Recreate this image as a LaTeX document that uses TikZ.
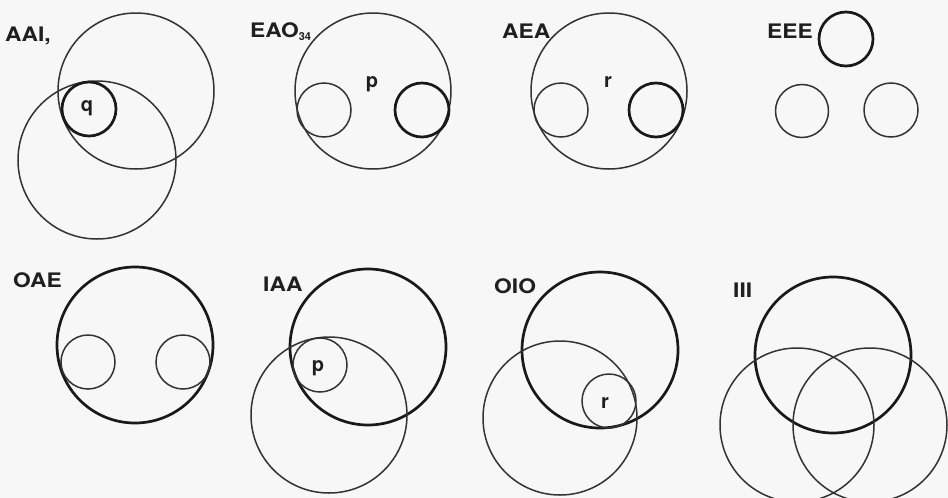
\documentclass[tikz,border=0pt]{standalone}
\usepackage{fontspec}
\setmainfont{TeX Gyre Heros}
\tikzset{
  ring/.style={circle, draw=black!80, line width=1.5pt, inner sep=0pt, minimum size=#1},
  thickring/.style={circle, draw=black!90, line width=2.7pt, inner sep=0pt, minimum size=#1},
  lbl/.style={anchor=base west, inner sep=0pt, font=\fontsize{20}{24}\selectfont\bfseries, text=black!88},
  letter/.style={inner sep=0pt, font=\fontsize{20}{24}\selectfont\bfseries, text=black!88}
}
\newcommand{\wide}[1]{\scalebox{1.14}[1]{#1}}
\begin{document}
\begin{tikzpicture}[x=1pt,y=-1pt]
\useasboundingbox[fill=black!3] (0,0) rectangle (948,498);
\clip (0,0) rectangle (948,498);
% AAI
\node[ring=156] (aaiT) at (136,91) {};
\node[ring=158] (aaiB) at (97,160) {};
\node[thickring=54] (aaiQ) at (89,109) {};
\node[letter] (q1) at (87,108) {q};
\node[lbl] (lAAI) at (5,41) {\wide{AAI,}};
% EAO
\node[ring=156] (eaoB) at (373,91) {};
\node[ring=54] (eaoL) at (324,110) {};
\node[thickring=54] (eaoR) at (422,110) {};
\node[letter] (p1) at (372,84) {p};
\node[lbl] (lEAO) at (250,37) {\wide{EAO}\raisebox{-3pt}{\fontsize{11}{11}\selectfont 34}};
% AEA
\node[ring=156] (aeaB) at (609,91) {};
\node[ring=54] (aeaL) at (561,110) {};
\node[thickring=54] (aeaR) at (656,110) {};
\node[letter] (r1) at (608,82) {r};
\node[lbl] (lAEA) at (502,38) {\wide{AEA}};
% EEE
\node[thickring=54] (eeeT) at (846,39) {};
\node[ring=53] (eeeL) at (802,111) {};
\node[ring=54] (eeeR) at (891,110) {};
\node[lbl] (lEEE) at (767,38) {\wide{EEE}};
% OAE
\node[thickring=156] (oaeB) at (135,345) {};
\node[ring=54] (oaeL) at (88,362) {};
\node[ring=54] (oaeR) at (183,362) {};
\node[lbl] (lOAE) at (13,287) {\wide{OAE}};
% IAA
\node[thickring=156] (iaaT) at (368,347) {};
\node[ring=156] (iaaB) at (329,415) {};
\node[ring=54] (iaaS) at (320,365) {};
\node[letter] (p2) at (318,368) {p};
\node[lbl] (lIAA) at (263,291) {\wide{IAA}};
% OIO
\node[thickring=156] (oioT) at (600,350) {};
\node[ring=154] (oioB) at (560,418) {};
\node[ring=54] (oioS) at (609,401) {};
\node[letter] (r2) at (605,403) {r};
\node[lbl] (lOIO) at (494,293) {\wide{OIO}};
% III
\node[thickring=156] (iiiT) at (833,355) {};
\node[ring=154] (iiiL) at (797,425) {};
\node[ring=154] (iiiR) at (870,425) {};
\node[lbl] (lIII) at (733,297) {\wide{III}};
\end{tikzpicture}
\end{document}
